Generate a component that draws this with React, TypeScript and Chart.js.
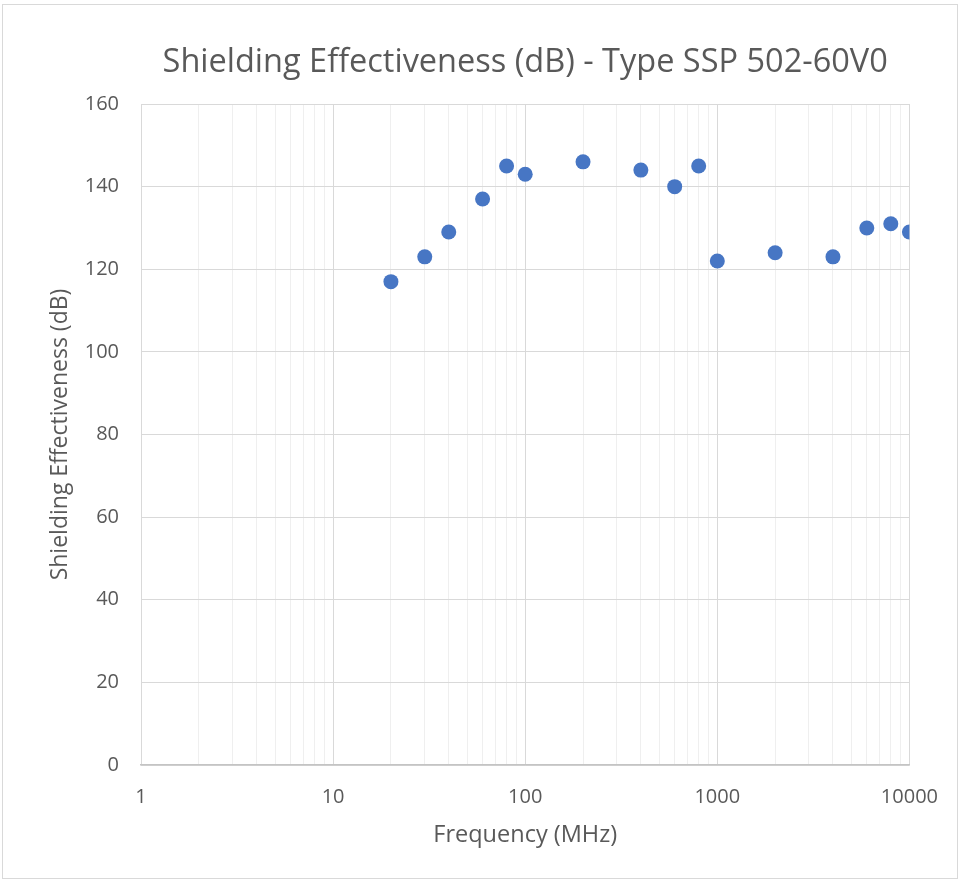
import React, { useEffect, useRef } from "react";
import { Chart, registerables } from "chart.js";

Chart.register(...registerables);

const frequencies = [20, 30, 40, 60, 80, 100, 200, 400, 600, 800, 1000, 2000, 4000, 6000, 8000, 10000];
const shielding = [117, 123, 129, 137, 145, 143, 146, 144, 140, 145, 122, 124, 123, 130, 131, 129];
const xTickLabels = [1, 10, 100, 1000, 10000];
const yTicks = [0, 20, 40, 60, 80, 100, 120, 140, 160];

const TEXT = "#595959";
const FONT = "'Open Sans', 'Liberation Sans', sans-serif";

export default function App() {
  const ref = useRef<HTMLCanvasElement | null>(null);
  useEffect(() => {
    document.body.style.margin = "0";
    const canvas = ref.current;
    if (!canvas) return;
    const data = frequencies.map((f, i) => ({ x: f, y: shielding[i] }));
    const isDecade = (v: number) => Math.abs(Math.log10(v) - Math.round(Math.log10(v))) < 1e-9;
    const chart = new Chart(canvas, {
      type: "scatter",
      data: {
        datasets: [
          {
            data,
            backgroundColor: "#4776C4",
            borderWidth: 0,
            pointRadius: 7.5,
            pointHoverRadius: 7.5,
          },
        ],
      },
      options: {
        animation: false,
        responsive: false,
        devicePixelRatio: 1,
        layout: { padding: { left: 40, right: 48, top: 19, bottom: 19 } },
        plugins: {
          legend: { display: false },
          tooltip: { enabled: false },
          title: {
            display: true,
            fullSize: false,
            text: "Shielding Effectiveness (dB) - Type SSP 502-60V0",
            color: TEXT,
            font: { family: FONT, size: 32.5, weight: "normal" },
            padding: { top: 24, bottom: 22 },
          },
        },
        scales: {
          x: {
            type: "logarithmic",
            min: 1,
            max: 10000,
            afterFit: (s: any) => {
              s.height = 96;
            },
            afterBuildTicks: (s: any) => {
              const t: any[] = [];
              for (let d = 1; d < 10000; d *= 10) {
                for (let k = 1; k < 10; k++) t.push({ value: d * k });
              }
              t.push({ value: 10000 });
              s.ticks = t;
            },
            ticks: {
              autoSkip: false,
              maxRotation: 0,
              minRotation: 0,
              padding: 20,
              color: TEXT,
              font: { family: FONT, size: 20 },
              callback: (v: any) => (xTickLabels.includes(Number(v)) ? String(v) : ""),
            },
            grid: {
              drawTicks: false,
              color: (ctx: any) => (ctx.tick && isDecade(ctx.tick.value) ? "#d9d9d9" : "#efefef"),
              lineWidth: 1,
            },
            border: { color: "#c4c4c4", width: 1.5 },
            title: {
              display: true,
              text: "Frequency (MHz)",
              color: TEXT,
              font: { family: FONT, size: 23.5 },
              padding: { top: 0, bottom: 12 },
            },
          },
          y: {
            min: 0,
            max: 160,
            afterFit: (s: any) => {
              s.width = 101;
            },
            afterBuildTicks: (s: any) => {
              s.ticks = yTicks.map((v) => ({ value: v }));
            },
            ticks: {
              padding: 22,
              color: TEXT,
              font: { family: FONT, size: 20 },
            },
            grid: { drawTicks: false, color: "#d9d9d9", lineWidth: 1 },
            border: { display: false },
            title: {
              display: true,
              text: "Shielding Effectiveness (dB)",
              color: TEXT,
              font: { family: FONT, size: 23 },
              padding: { top: 7, bottom: 0 },
            },
          },
        },
      },
    });
    return () => chart.destroy();
  }, []);
  return (
    <div style={{ position: "relative", width: 958, height: 880, background: "#fff" }}>
      <div
        style={{
          position: "absolute",
          left: 2,
          top: 4,
          width: 956,
          height: 875,
          border: "1px solid #d9d9d9",
          boxSizing: "border-box",
        }}
      />
      <canvas ref={ref} width={958} height={880} style={{ position: "absolute", left: 0, top: 0, width: 958, height: 880 }} />
    </div>
  );
}
